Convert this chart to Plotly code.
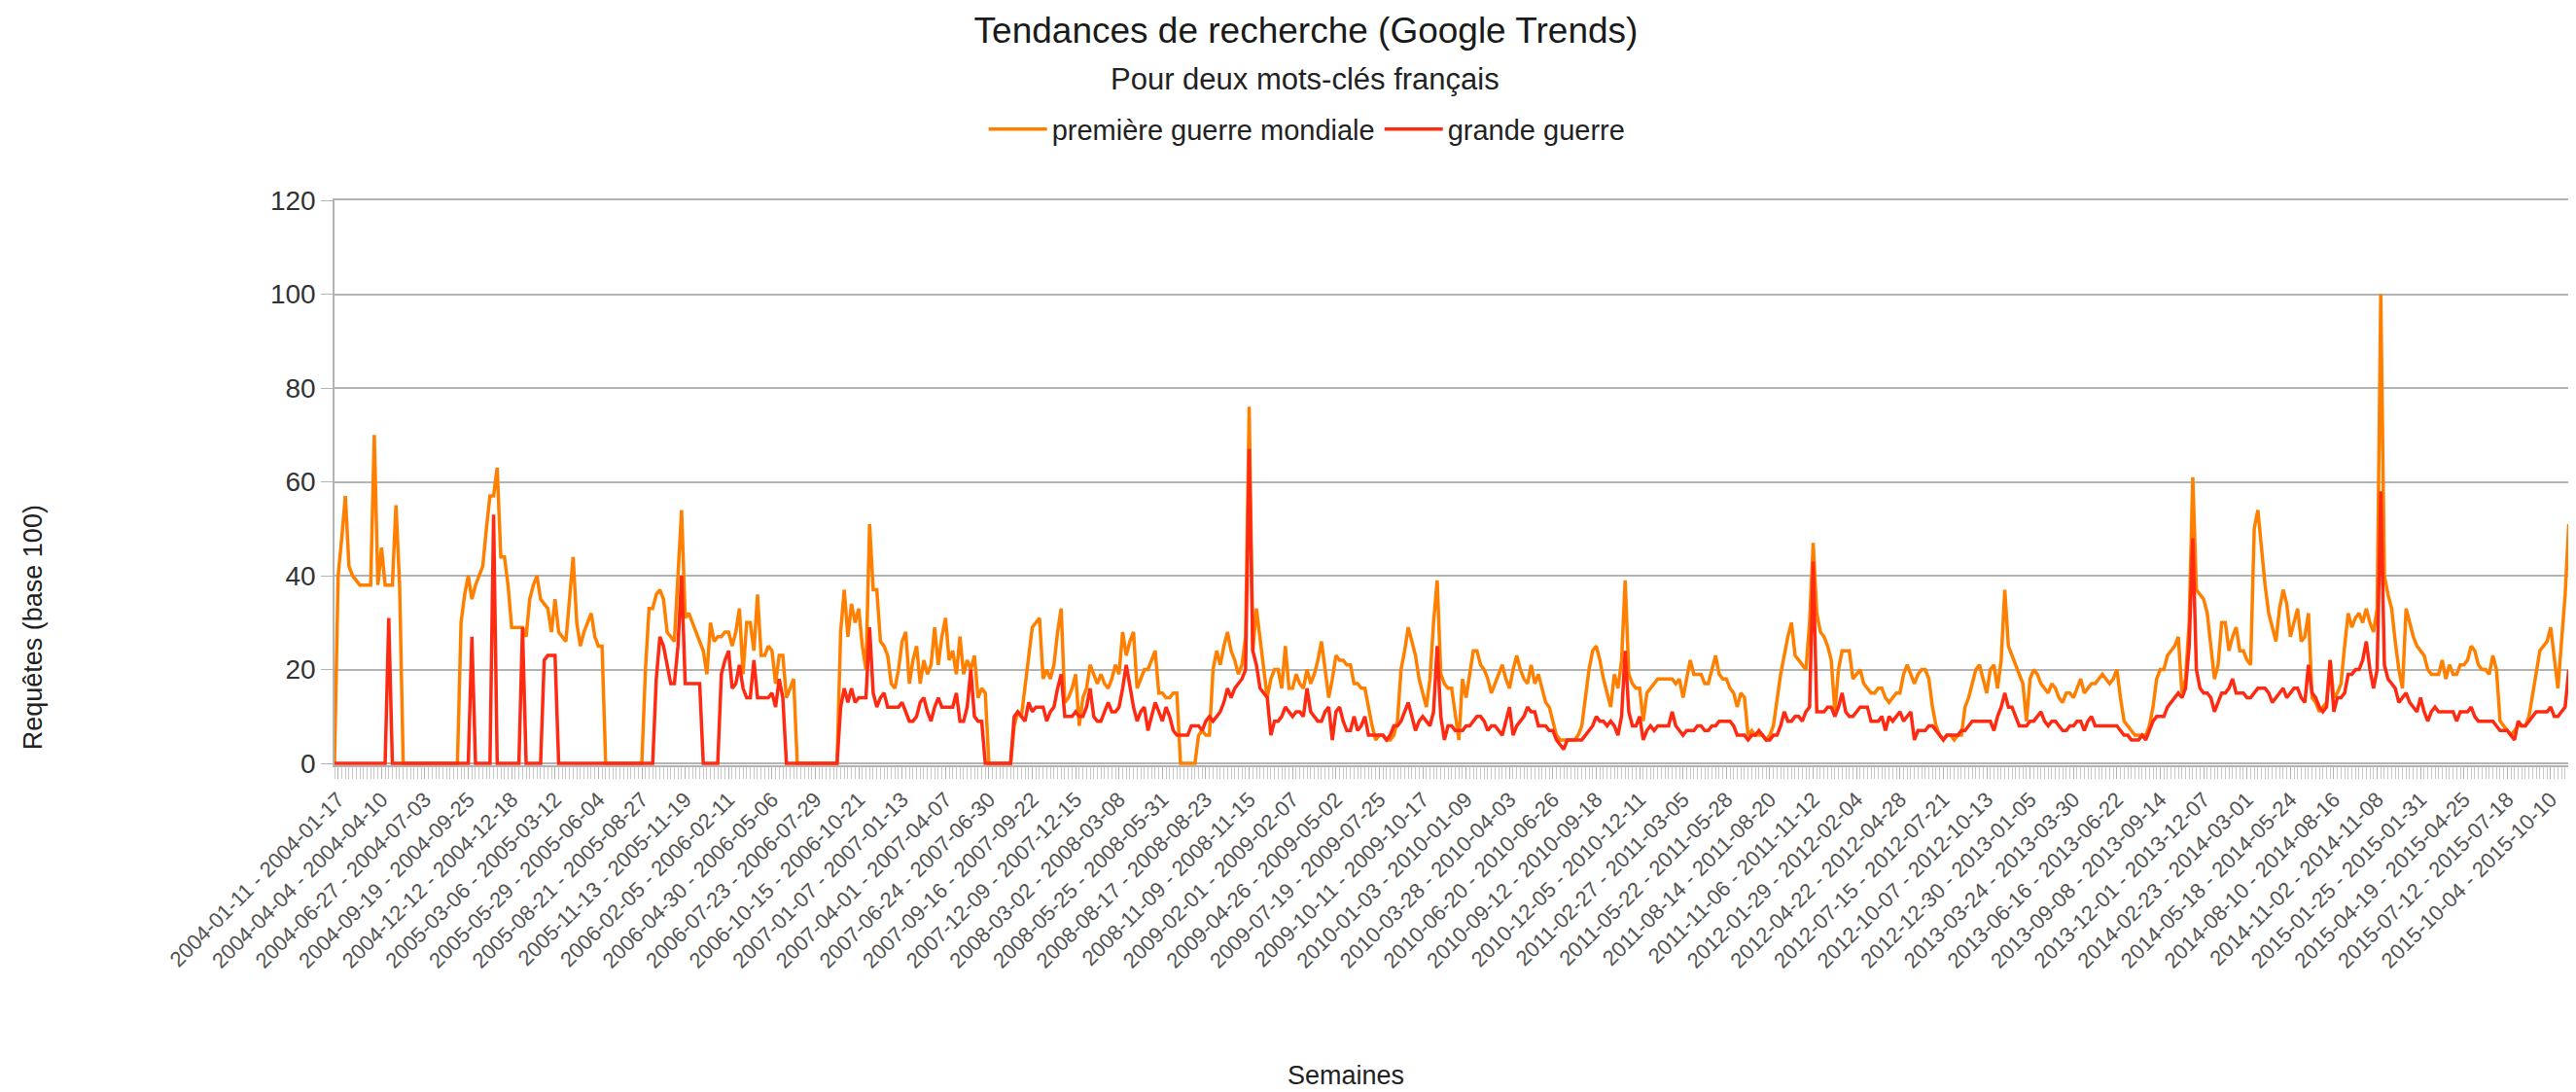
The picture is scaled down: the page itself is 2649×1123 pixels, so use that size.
import pandas as pd
import plotly.graph_objects as go

# weekly Google Trends data, weeks starting 2004-01-04
week_starts = pd.date_range("2004-01-04", periods=621, freq="7D")

premiere_guerre_mondiale = [
    0, 40, 48, 57, 42, 40, 39, 38, 38, 38,
    38, 70, 38, 46, 38, 38, 38, 55, 38, 0,
    0, 0, 0, 0, 0, 0, 0, 0, 0, 0,
    0, 0, 0, 0, 0, 30, 36, 40, 35, 38,
    40, 42, 50, 57, 57, 63, 44, 44, 38, 29,
    29, 29, 29, 27, 35, 38, 40, 35, 34, 33,
    28, 35, 28, 27, 26, 35, 44, 30, 25, 28,
    30, 32, 27, 25, 25, 0, 0, 0, 0, 0,
    0, 0, 0, 0, 0, 0, 20, 33, 33, 36,
    37, 35, 28, 27, 26, 40, 54, 31, 32, 30,
    28, 26, 24, 19, 30, 26, 27, 27, 28, 28,
    25, 28, 33, 19, 30, 30, 24, 36, 23, 23,
    25, 24, 17, 23, 23, 14, 16, 18, 0, 0,
    0, 0, 0, 0, 0, 0, 0, 0, 0, 0,
    28, 37, 27, 34, 30, 33, 25, 20, 51, 37,
    37, 26, 25, 23, 17, 16, 20, 26, 28, 17,
    22, 25, 17, 22, 19, 21, 29, 21, 27, 31,
    22, 24, 19, 27, 19, 22, 20, 23, 14, 16,
    15, 0, 0, 0, 0, 0, 0, 0, 8, 11,
    10, 16, 22, 29, 30, 31, 18, 20, 18, 21,
    28, 33, 13, 14, 16, 19, 8, 14, 16, 21,
    19, 17, 19, 17, 16, 18, 21, 19, 28, 23,
    26, 28, 16, 18, 20, 20, 22, 24, 15, 15,
    14, 14, 15, 15, 0, 0, 0, 0, 0, 6,
    7, 6, 6, 20, 24, 21, 25, 28, 24, 22,
    19, 21, 27, 76, 24, 33, 27, 20, 14, 18,
    20, 20, 16, 25, 16, 16, 19, 17, 16, 20,
    17, 19, 22, 26, 20, 14, 18, 23, 22, 22,
    21, 21, 17, 17, 16, 16, 12, 8, 5, 6,
    6, 5, 5, 6, 9, 20, 24, 29, 26, 23,
    18, 15, 12, 18, 30, 39, 19, 17, 16, 16,
    10, 5, 18, 14, 19, 24, 24, 21, 20, 18,
    15, 17, 19, 21, 18, 16, 20, 23, 20, 18,
    17, 21, 17, 19, 16, 13, 12, 9, 6, 5,
    5, 5, 5, 5, 6, 8, 14, 20, 24, 25,
    22, 18, 15, 12, 19, 16, 22, 39, 19, 17,
    16, 16, 9, 15, 16, 17, 18, 18, 18, 18,
    18, 17, 18, 14, 18, 22, 19, 19, 19, 17,
    17, 20, 23, 19, 18, 18, 16, 15, 12, 15,
    14, 6, 7, 6, 6, 6, 5, 6, 8, 14,
    19, 23, 27, 30, 23, 22, 21, 20, 30, 47,
    32, 28, 27, 25, 22, 11, 20, 24, 24, 24,
    18, 19, 20, 17, 16, 15, 15, 16, 16, 14,
    13, 14, 15, 15, 19, 21, 19, 17, 19, 20,
    20, 18, 12, 8, 6, 5, 6, 6, 5, 6,
    6, 12, 14, 17, 20, 21, 18, 15, 20, 21,
    16, 22, 37, 25, 23, 21, 19, 17, 9, 18,
    20, 19, 17, 16, 15, 17, 16, 14, 13, 15,
    15, 14, 16, 18, 15, 16, 17, 17, 18, 19,
    18, 17, 18, 20, 14, 9, 8, 7, 6, 6,
    6, 6, 8, 12, 18, 20, 20, 23, 24, 25,
    27, 15, 18, 30, 61, 37, 36, 35, 32, 25,
    18, 21, 30, 30, 24, 27, 29, 24, 24, 22,
    21, 50, 54, 46, 38, 32, 29, 26, 33, 37,
    34, 27, 30, 33, 26, 27, 32, 14, 13, 11,
    12, 13, 22, 14, 15, 17, 25, 32, 29, 31,
    32, 30, 33, 30, 28, 33, 100, 40, 36, 33,
    26, 20, 16, 33, 30, 27, 25, 24, 23, 20,
    19, 19, 19, 22, 18, 21, 19, 19, 21, 21,
    22, 25, 24, 21, 20, 20, 19, 23, 20, 9,
    8, 7, 6, 7, 8, 8, 8, 10, 15, 20,
    24, 25, 26, 29, 22, 16, 26, 36, 51, 29,
    38,
]

grande_guerre = [
    0, 0, 0, 0, 0, 0, 0, 0, 0, 0,
    0, 0, 0, 0, 0, 31, 0, 0, 0, 0,
    0, 0, 0, 0, 0, 0, 0, 0, 0, 0,
    0, 0, 0, 0, 0, 0, 0, 0, 27, 0,
    0, 0, 0, 0, 53, 0, 0, 0, 0, 0,
    0, 0, 29, 0, 0, 0, 0, 0, 22, 23,
    23, 23, 0, 0, 0, 0, 0, 0, 0, 0,
    0, 0, 0, 0, 0, 0, 0, 0, 0, 0,
    0, 0, 0, 0, 0, 0, 0, 0, 0, 18,
    27, 25, 21, 17, 17, 25, 40, 17, 17, 17,
    17, 17, 0, 0, 0, 0, 0, 19, 22, 24,
    16, 17, 21, 16, 14, 14, 22, 14, 14, 14,
    14, 15, 12, 18, 14, 0, 0, 0, 0, 0,
    0, 0, 0, 0, 0, 0, 0, 0, 0, 0,
    12, 16, 13, 16, 13, 14, 14, 14, 29, 15,
    12, 14, 15, 12, 12, 12, 12, 13, 11, 9,
    9, 10, 13, 14, 11, 9, 12, 14, 12, 12,
    12, 12, 15, 9, 9, 12, 20, 10, 9, 9,
    0, 0, 0, 0, 0, 0, 0, 0, 10, 11,
    10, 9, 13, 11, 12, 12, 12, 9, 11, 12,
    16, 19, 10, 10, 10, 11, 10, 10, 12, 16,
    10, 9, 9, 11, 13, 11, 11, 12, 16, 21,
    16, 12, 9, 11, 12, 7, 10, 13, 11, 9,
    12, 10, 7, 6, 6, 6, 6, 8, 8, 8,
    7, 9, 10, 9, 10, 11, 13, 16, 14, 16,
    17, 18, 20, 67, 24, 21, 16, 15, 14, 6,
    9, 9, 10, 12, 11, 10, 11, 11, 10, 16,
    11, 10, 9, 9, 11, 12, 5, 11, 12, 9,
    7, 7, 10, 7, 8, 10, 6, 6, 6, 6,
    6, 5, 6, 8, 8, 9, 11, 13, 10, 7,
    9, 10, 9, 8, 11, 25, 10, 5, 8, 8,
    7, 7, 7, 8, 8, 9, 10, 10, 9, 7,
    8, 8, 7, 6, 9, 12, 6, 8, 9, 10,
    12, 11, 11, 8, 8, 8, 7, 7, 5, 4,
    3, 5, 5, 5, 5, 5, 6, 7, 8, 10,
    9, 9, 8, 9, 8, 6, 10, 24, 11, 8,
    8, 10, 5, 7, 8, 7, 8, 8, 8, 8,
    11, 8, 7, 6, 7, 7, 7, 8, 8, 7,
    7, 8, 8, 9, 9, 9, 9, 8, 6, 6,
    6, 5, 6, 6, 7, 6, 5, 5, 6, 6,
    8, 11, 9, 9, 10, 10, 9, 11, 12, 43,
    11, 11, 11, 12, 12, 10, 12, 15, 11, 10,
    10, 11, 12, 12, 12, 9, 9, 9, 10, 7,
    10, 9, 10, 11, 9, 10, 11, 5, 7, 7,
    7, 8, 8, 7, 6, 5, 6, 6, 6, 6,
    7, 7, 8, 9, 9, 9, 9, 9, 9, 7,
    10, 12, 15, 12, 12, 10, 8, 8, 8, 9,
    9, 10, 11, 9, 8, 9, 9, 8, 7, 7,
    8, 8, 9, 9, 7, 9, 10, 8, 8, 8,
    8, 8, 8, 8, 7, 6, 6, 5, 5, 5,
    6, 5, 7, 9, 10, 10, 10, 12, 13, 14,
    15, 14, 16, 25, 48, 20, 16, 15, 15, 14,
    11, 13, 15, 15, 16, 18, 15, 15, 15, 14,
    14, 15, 16, 16, 16, 15, 13, 14, 15, 16,
    14, 15, 16, 16, 14, 13, 21, 15, 14, 12,
    11, 12, 22, 11, 14, 14, 15, 19, 19, 20,
    20, 22, 26, 20, 16, 20, 58, 21, 18, 17,
    16, 13, 14, 15, 13, 12, 11, 14, 11, 9,
    11, 12, 11, 11, 11, 11, 11, 9, 11, 11,
    11, 12, 10, 9, 9, 9, 9, 9, 8, 7,
    7, 7, 6, 5, 9, 8, 8, 9, 10, 11,
    11, 11, 11, 12, 10, 10, 11, 12, 20, 12,
    12,
]

assert len(premiere_guerre_mondiale) == len(week_starts)
assert len(grande_guerre) == len(week_starts)

# one label every 12 weeks, in the "start - end" form of Google Trends
label_weeks = week_starts[1::12]
label_text = [f"{d:%Y-%m-%d} - {d + pd.Timedelta(days=6):%Y-%m-%d}" for d in label_weeks]

FONT = "Liberation Sans, Arial, sans-serif"
W, H = 2649, 1123
L, R, T, B = 336, 6, 198, 344
plot_h = H - T - B
plot_w = W - L - R


def px_x(x):
    return (x - L) / plot_w


def px_y(y):
    return (H - B - y) / plot_h


fig = go.Figure()
fig.add_trace(go.Scatter(
    x=week_starts, y=premiere_guerre_mondiale, mode="lines",
    name="première guerre mondiale",
    line=dict(color="#ff8000", width=3.5),
))
fig.add_trace(go.Scatter(
    x=week_starts, y=grande_guerre, mode="lines",
    name="grande guerre",
    line=dict(color="#ff2a12", width=3.5),
))

fig.update_xaxes(
    range=[week_starts[0], week_starts[-1]],
    showgrid=False,
    showline=True, linecolor="#b3b3b3", linewidth=1.5, mirror=True,
    tickmode="array", tickvals=label_weeks, ticktext=label_text,
    tickangle=-45,
    ticks="outside", ticklen=12, tickcolor="#b3b3b3",
    minor=dict(dtick=7 * 86400000, tick0=week_starts[0], ticks="outside",
               ticklen=12, tickcolor="#c8c8c8"),
    tickfont=dict(family=FONT, size=22, color="#555555"),
)
fig.update_yaxes(
    range=[-0.4, 120], dtick=20,
    showgrid=True, gridcolor="#b3b3b3", gridwidth=1.5,
    showline=True, linecolor="#b3b3b3", linewidth=1.5, mirror=True,
    zeroline=False,
    ticks="outside", ticklen=12, tickcolor="#b3b3b3",
    tickfont=dict(family=FONT, size=28, color="#333333"),
)

fig.update_layout(
    width=W, height=H,
    margin=dict(l=L, r=R, t=T, b=B),
    paper_bgcolor="white", plot_bgcolor="white",
    font=dict(family=FONT, color="#222222"),
    title=dict(
        text="Tendances de recherche (Google Trends)",
        x=1335 / W, xref="container", xanchor="center",
        y=1 - 23 / H, yref="container", yanchor="middle",
        font=dict(family=FONT, size=37, color="#1a1a1a"),
    ),
    showlegend=True,
    legend=dict(
        orientation="h", x=px_x(1337), xanchor="center",
        y=px_y(125), yanchor="middle",
        font=dict(family=FONT, size=29, color="#222222"),
        itemwidth=60, bgcolor="rgba(0,0,0,0)",
    ),
    annotations=[
        dict(text="Pour deux mots-clés français", xref="paper", yref="paper",
             x=px_x(1335), y=px_y(74), xanchor="center", yanchor="middle",
             showarrow=False, font=dict(family=FONT, size=31, color="#222222")),
        dict(text="Requêtes (base 100)", xref="paper", yref="paper",
             x=px_x(26), y=px_y(637), xanchor="center", yanchor="middle",
             textangle=-90, showarrow=False,
             font=dict(family=FONT, size=27, color="#222222")),
        dict(text="Semaines", xref="paper", yref="paper",
             x=px_x(1377), y=px_y(1098), xanchor="center", yanchor="middle",
             showarrow=False, font=dict(family=FONT, size=27, color="#222222")),
    ],
)

fig.write_html("out.html")
